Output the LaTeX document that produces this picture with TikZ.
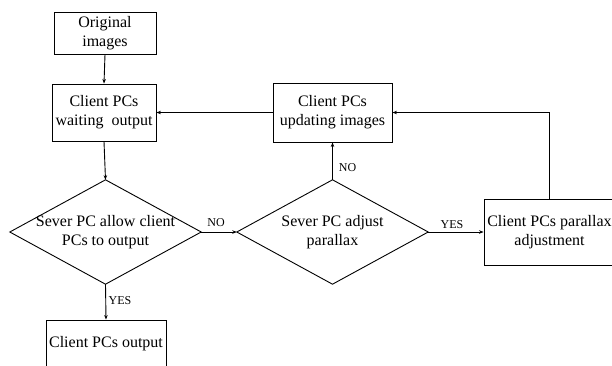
\documentclass[tikz,border=0pt]{standalone}
\usepackage{fontspec}
\setmainfont{Liberation Serif}
\newfontfamily\tms{Liberation Serif}
\usetikzlibrary{arrows.meta}
\begin{document}
\begin{tikzpicture}[x=1pt,y=-1pt,
  every node/.style={font=\tms\fontsize{16}{19}\selectfont},
  box/.style={draw, line width=0.9pt, rectangle, inner sep=0pt, align=center},
  decbox/.style={rectangle, inner sep=0pt, align=center},
  lbl/.style={font=\tms\fontsize{12}{14}\selectfont, inner sep=0pt},
  conn/.style={line width=0.9pt, -{Stealth[length=4.5pt,width=3.5pt]}},
  dia/.style={draw, line width=0.9pt, line join=miter}]
\useasboundingbox (0,0) rectangle (612,365);

% process boxes
\node[box, minimum width=102pt, minimum height=42pt] (orig) at (105,33) {Original\\images};
\node[box, minimum width=104pt, minimum height=57pt] (wait) at (104,112.5) {Client PCs\\waiting\ \ output};
\node[box, minimum width=119pt, minimum height=59pt] (upd) at (332.5,112.5) {Client PCs\\updating images};
\node[box, minimum width=131pt, minimum height=66pt] (par) at (549.5,232) {Client PCs parallax\\adjustment};
\node[box, minimum width=120pt, minimum height=48pt] (out) at (106,344) {Client PCs output};

% decision diamonds
\node[decbox, minimum width=191pt, minimum height=104pt] (d1) at (105.5,232) {Sever PC allow client\\PCs to output};
\node[decbox, minimum width=191pt, minimum height=104pt] (d2) at (332.5,232) {Sever PC adjust\\parallax};
\draw[dia] (d1.north) -- (d1.east) -- (d1.south) -- (d1.west) -- cycle;
\draw[dia] (d2.north) -- (d2.east) -- (d2.south) -- (d2.west) -- cycle;

% connectors
\draw[conn] (orig.south) -- (wait.north);
\draw[conn] (wait.south) -- (d1.north);
\draw[conn] (d1.south) -- node[lbl, pos=0.45, right=2.5pt] (yes1) {YES} (out.north);
\draw[conn] (d1.east) -- node[lbl, pos=0.42, above=5pt] (no1) {NO} (d2.west);
\draw[conn] (d2.north) -- node[lbl, pos=0.34, right=6pt] (no2) {NO} (upd.south);
\draw[conn] (d2.east) -- node[lbl, pos=0.43, above=3pt] (yes2) {YES} (par.west);
\draw[conn] (par.north) |- (upd.east);
\draw[conn] (upd.west) -- (wait.east);
\end{tikzpicture}
\end{document}
